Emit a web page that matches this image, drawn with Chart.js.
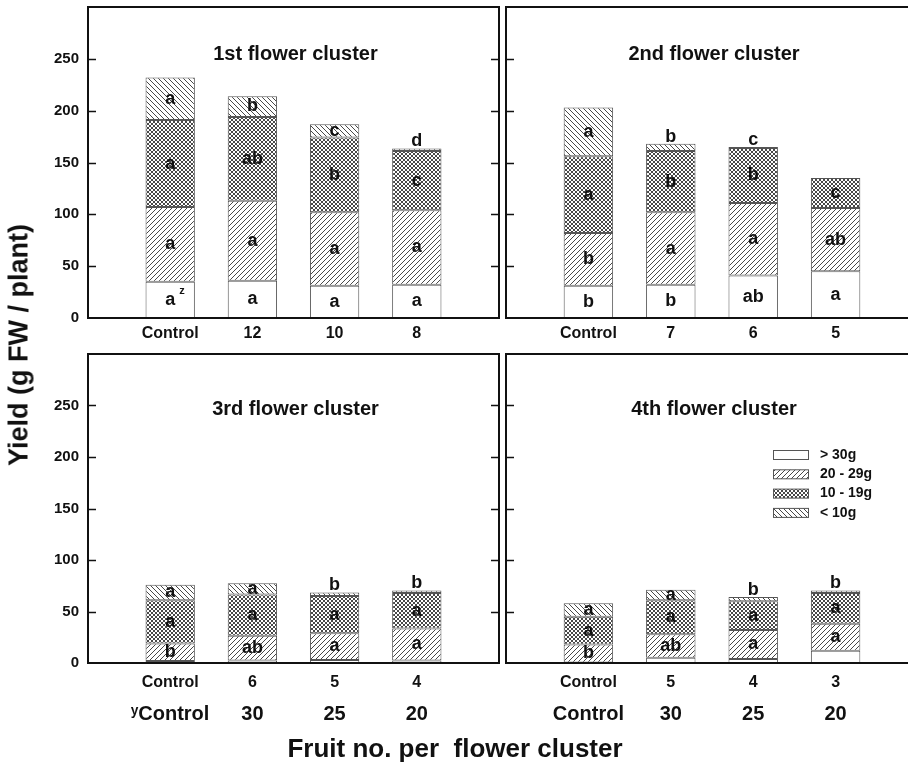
<!DOCTYPE html>
<html>
<head>
<meta charset="utf-8">
<title>Yield by fruit size class</title>
<script src="https://cdn.jsdelivr.net/npm/chart.js@4.4.1/dist/chart.umd.min.js"></script>
<style>
body{margin:0;width:908px;height:764px;overflow:hidden;position:relative;background:#fff;font-family:"Liberation Sans",Arial,sans-serif;color:#111;}
canvas{position:absolute;}
#yTitle{position:absolute;left:19px;top:345px;transform:translate(-50%,-50%) rotate(-90deg);font-weight:bold;font-size:27px;white-space:nowrap;}
#xTitle{position:absolute;left:455px;top:748px;transform:translate(-50%,-50%);font-weight:bold;font-size:26px;white-space:pre;}
</style>
</head>
<body>
<canvas id="c1" width="500" height="345" style="left:0;top:0"></canvas>
<canvas id="c2" width="420" height="345" style="left:500px;top:0"></canvas>
<canvas id="c3" width="500" height="419" style="left:0;top:345px"></canvas>
<canvas id="c4" width="420" height="419" style="left:500px;top:345px"></canvas>
<div id="yTitle">Yield (g FW / plant)</div>
<div id="xTitle">Fruit no. per  flower cluster</div>
<script>
// fruit size classes, bottom of the stack first
const sizeClasses = ["> 30g", "20 - 29g", "10 - 19g", "< 10g"];

// 1st flower cluster
const c1Labels = ["Control", "12", "10", "8"];
const c1Over30 = [35, 36, 31, 32];
const c1From20 = [72, 77, 71, 72];
const c1From10 = [84, 81, 72, 57];
const c1Under10 = [41, 20, 13, 2.5];
const c1Letters = [["a^z", "a", "a", "a"], ["a", "a", "a", "a"], ["a", "ab", "b", "c"], ["a", "b", "c", "d"]];

// 2nd flower cluster
const c2Labels = ["Control", "7", "6", "5"];
const c2Over30 = [31, 32, 41, 45];
const c2From20 = [51, 70, 70, 61];
const c2From10 = [74, 59, 53, 29];
const c2Under10 = [47, 7, 1, 0];
const c2Letters = [["b", "b", "ab", "a"], ["b", "a", "a", "ab"], ["a", "b", "b", "c"], ["a", "b", "c", ""]];

// 3rd flower cluster
const c3Labels = ["Control", "6", "5", "4"];
const c3Over30 = [2, 2.5, 3, 2.5];
const c3From20 = [17, 24, 26, 31];
const c3From10 = [42, 40, 36, 34.5];
const c3Under10 = [15, 11, 3.5, 2.5];
const c3Letters = [["", "", "", ""], ["b", "ab", "a", "a"], ["a", "a", "a", "a"], ["a", "a", "b", "b"]];

// 4th flower cluster
const c4Labels = ["Control", "5", "4", "3"];
const c4Over30 = [0.5, 5, 4, 12];
const c4From20 = [17.5, 23, 28, 26];
const c4From10 = [27, 33, 28, 30];
const c4Under10 = [13, 10, 4, 2.5];
const c4Letters = [["", "", "", ""], ["b", "ab", "a", "a"], ["a", "a", "a", "a"], ["a", "a", "b", "b"]];

// second label row under the bottom panels
const c3Row2 = ["\u02B8Control", "30", "25", "20"];
const c4Row2 = ["Control", "30", "25", "20"];

const yTicks = [0, 50, 100, 150, 200, 250];

Chart.defaults.font.family = '"Liberation Sans", Arial, sans-serif';
Chart.defaults.font.weight = "bold";
Chart.defaults.color = "#111";

// empty slot at each end so the bars sit at 1..4 of 0..5
function pad(arr, fill){
  return [fill].concat(arr, [fill]);
}

function hatch(kind){
  const s = kind === "x" ? 4 : 5;
  const c = document.createElement("canvas");
  c.width = s; c.height = s;
  const g = c.getContext("2d");
  g.fillStyle = "#fff";
  g.fillRect(0, 0, s, s);
  g.strokeStyle = "#333";
  g.lineWidth = 0.9;
  g.beginPath();
  if(kind === "/" || kind === "x"){
    g.moveTo(-1, s + 1); g.lineTo(s + 1, -1);
    g.moveTo(-1, 1); g.lineTo(1, -1);
    g.moveTo(s - 1, s + 1); g.lineTo(s + 1, s - 1);
  }
  if(kind === "\\" || kind === "x"){
    g.moveTo(-1, -1); g.lineTo(s + 1, s + 1);
    g.moveTo(s - 1, -1); g.lineTo(s + 1, 1);
    g.moveTo(-1, s - 1); g.lineTo(1, s + 1);
  }
  g.stroke();
  return g.createPattern(c, "repeat");
}

const fills = ["#fff", hatch("/"), hatch("x"), hatch("\\")];

const framePlugin = {
  id: "frame",
  afterDraw(chart){
    const a = chart.chartArea;
    const ctx = chart.ctx;
    const y = chart.scales.y;
    ctx.save();
    ctx.strokeStyle = "#111";
    ctx.lineWidth = 2;
    ctx.strokeRect(a.left, a.top, a.right - a.left, a.bottom - a.top);
    ctx.lineWidth = 1.5;
    yTicks.forEach(v => {
      if(v <= 0) return;
      const py = Math.round(y.getPixelForValue(v)) + 0.5;
      ctx.beginPath();
      ctx.moveTo(a.left, py); ctx.lineTo(a.left + 8, py);
      ctx.moveTo(a.right - 8, py); ctx.lineTo(a.right, py);
      ctx.stroke();
    });
    ctx.restore();
  }
};

const textPlugin = {
  id: "panelText",
  afterDatasetsDraw(chart, args, opts){
    const a = chart.chartArea;
    const ctx = chart.ctx;
    ctx.save();
    ctx.fillStyle = "#111";
    ctx.textAlign = "center";
    ctx.textBaseline = "middle";

    // panel title
    ctx.font = 'bold 20px "Liberation Sans", Arial, sans-serif';
    ctx.fillText(opts.title, (a.left + a.right) / 2 + 2, a.top + opts.titleOffset);

    // significance letters
    chart.data.datasets.forEach((ds, i) => {
      const meta = chart.getDatasetMeta(i);
      const letters = pad(opts.letters[i], "");
      meta.data.forEach((bar, j) => {
        const txt = letters[j];
        if(!txt) return;
        const h = bar.base - bar.y;
        const cy = h < 9 ? bar.y - 7 : (bar.y + bar.base) / 2;
        const parts = txt.split("^");
        ctx.font = 'bold 18px "Liberation Sans", Arial, sans-serif';
        ctx.textAlign = "center";
        ctx.fillText(parts[0], bar.x, cy);
        if(parts[1]){
          const w = ctx.measureText(parts[0]).width;
          ctx.font = 'bold 11px "Liberation Sans", Arial, sans-serif';
          ctx.textAlign = "left";
          ctx.fillText(parts[1], bar.x + w / 2 + 4, cy - 9);
        }
      });
    });

    // legend
    if(opts.legend){
      ctx.textAlign = "left";
      ctx.font = 'bold 14px "Liberation Sans", Arial, sans-serif';
      chart.data.datasets.forEach((ds, i) => {
        const bx = a.left + opts.legend.x;
        const by = a.top + opts.legend.y + i * 19.3;
        ctx.fillStyle = ds.backgroundColor;
        ctx.fillRect(bx, by - 4.5, 35, 9);
        ctx.strokeStyle = "#555";
        ctx.lineWidth = 1;
        ctx.strokeRect(bx + 0.5, by - 4.5, 35, 9);
        ctx.fillStyle = "#111";
        ctx.fillText(ds.label, bx + 47, by);
      });
    }
    ctx.restore();
  }
};

function makePanel(id, p){
  const series = [p.over30, p.from20, p.from10, p.under10];
  const scales = {
    x: {
      type: "category",
      stacked: true,
      offset: false,
      weight: 0,
      grid: { display: false, drawTicks: false },
      border: { display: false },
      ticks: { font: { size: 16, weight: "bold" }, color: "#111", padding: p.row1Pad, autoSkip: false, maxRotation: 0 },
      afterFit(s){
        s.height = p.row1Height;
        s.paddingLeft = 0;
        s.paddingRight = 0;
      }
    },
    y: {
      display: p.showY,
      stacked: true,
      min: 0,
      max: 300,
      grid: { display: false, drawTicks: false },
      border: { display: false },
      ticks: {
        stepSize: 50,
        padding: 9,
        color: "#111",
        font: { size: 15, weight: "bold" },
        callback: v => yTicks.includes(v) ? v : ""
      },
      afterFit(s){
        if(p.showY) s.width = 88;
        s.paddingTop = 0;
        s.paddingBottom = 0;
      }
    }
  };
  if(p.row2){
    scales.x2 = {
      type: "category",
      position: "bottom",
      labels: pad(p.row2, ""),
      offset: false,
      weight: 1,
      grid: { display: false, drawTicks: false },
      border: { display: false },
      ticks: { font: { size: 20, weight: "bold" }, color: "#111", padding: 7, autoSkip: false, maxRotation: 0 },
      afterFit(s){
        s.height = p.row2Height;
        s.paddingLeft = 0;
        s.paddingRight = 0;
      }
    };
  }
  return new Chart(document.getElementById(id), {
    type: "bar",
    data: {
      labels: pad(p.labels, ""),
      datasets: series.map((vals, i) => ({
        label: sizeClasses[i],
        data: pad(vals, null),
        backgroundColor: fills[i],
        borderColor: "#555",
        borderWidth: 1,
        borderSkipped: false,
        categoryPercentage: 1,
        barPercentage: 0.6
      }))
    },
    options: {
      responsive: false,
      animation: false,
      devicePixelRatio: 1,
      layout: { padding: p.padding },
      scales: scales,
      plugins: {
        legend: { display: false },
        tooltip: { enabled: false },
        panelText: { title: p.title, titleOffset: p.titleOffset, letters: p.letters, legend: p.legend }
      }
    },
    plugins: [framePlugin, textPlugin]
  });
}

makePanel("c1", {
  title: "1st flower cluster", titleOffset: 47,
  labels: c1Labels, over30: c1Over30, from20: c1From20, from10: c1From10, under10: c1Under10,
  letters: c1Letters, showY: true, row1Pad: 6, row1Height: 27,
  padding: { top: 7, right: 1, left: 0, bottom: 0 }
});

makePanel("c2", {
  title: "2nd flower cluster", titleOffset: 47,
  labels: c2Labels, over30: c2Over30, from20: c2From20, from10: c2From10, under10: c2Under10,
  letters: c2Letters, showY: false, row1Pad: 6, row1Height: 27,
  padding: { top: 7, right: 2, left: 6, bottom: 0 }
});

makePanel("c3", {
  title: "3rd flower cluster", titleOffset: 55,
  labels: c3Labels, over30: c3Over30, from20: c3From20, from10: c3From10, under10: c3Under10,
  letters: c3Letters, showY: true, row1Pad: 10, row1Height: 32,
  row2: c3Row2, row2Height: 69,
  padding: { top: 9, right: 1, left: 0, bottom: 0 }
});

makePanel("c4", {
  title: "4th flower cluster", titleOffset: 55,
  labels: c4Labels, over30: c4Over30, from20: c4From20, from10: c4From10, under10: c4Under10,
  letters: c4Letters, showY: false, row1Pad: 10, row1Height: 32,
  row2: c4Row2, row2Height: 69,
  legend: { x: 267, y: 101 },
  padding: { top: 9, right: 2, left: 6, bottom: 0 }
});
</script>
</body>
</html>
